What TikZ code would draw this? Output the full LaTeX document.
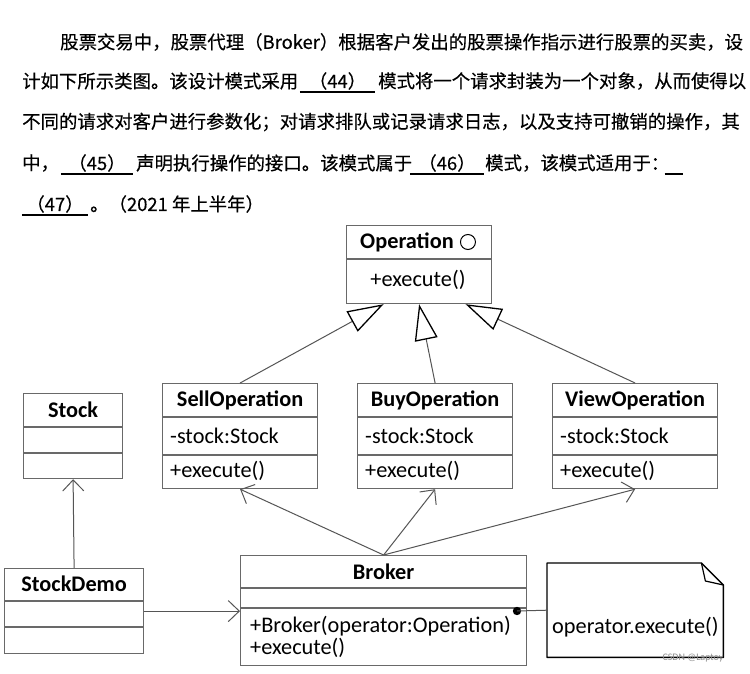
\documentclass[tikz,border=0pt]{standalone}
\usepackage{fontspec}
\setmainfont{Carlito}
\newfontfamily\cjkfont[FakeBold=0.4]{Noto Sans CJK SC}
\usetikzlibrary{arrows.meta,positioning,calc}
\definecolor{boxgray}{RGB}{105,105,105}
\definecolor{linegray}{RGB}{85,85,85}

\begin{document}
\begin{tikzpicture}[x=1pt,y=-1pt,
  cls/.style={draw=boxgray,line width=1.2pt,anchor=north west,inner sep=0pt},
  part/.style={draw=boxgray,line width=1.2pt},
  title/.style={font=\bfseries\fontsize{22.3}{24}\selectfont,inner sep=0pt},
  member/.style={font=\fontsize{22.3}{24}\selectfont,anchor=west,inner sep=0pt},
  para/.style={font=\cjkfont\fontsize{18.4}{22}\selectfont,anchor=west,inner sep=0pt},
  blank/.style={para,anchor=center,inner xsep=0pt,inner ysep=2pt},
  uline/.style={black,line width=1.3pt},
  gen/.style={draw=linegray,line width=1pt,-{Triangle[open,length=36pt,width=23pt,line width=1.3pt,color=black]}},
  dep/.style={draw=linegray,line width=1pt,-{Straight Barb[length=11pt,width=21pt,color=linegray]}}]
\useasboundingbox[fill=white] (0,0) rectangle (750,674);

% question text
\node[para] (l1) at (60,42) {股票交易中，股票代理（Broker）根据客户发出的股票操作指示进行股票的买卖，设};
\node[para] (l2a) at (22,81) {计如下所示类图。该设计模式采用};
\node[blank,minimum width=75pt] (b44) at (337.5,81) {（44）};
\node[para] (l2b) at (378,81) {模式将一个请求封装为一个对象，从而使得以};
\node[para] (l3) at (22,122) {不同的请求对客户进行参数化；对请求排队或记录请求日志，以及支持可撤销的操作，其};
\node[para] (l4a) at (22,163) {中，};
\node[blank,minimum width=72pt] (b45) at (97,163) {（45）};
\node[para] (l4b) at (136,163) {声明执行操作的接口。该模式属于};
\node[blank,minimum width=74pt] (b46) at (447,163) {（46）};
\node[para] (l4c) at (485,163) {模式，该模式适用于：};
\node[blank,minimum width=8pt] (b47a) at (674,163) {\phantom{（}};
\node[blank,minimum width=66pt] (b47) at (55,204) {（47）};
\node[para] (l5) at (90,204) {。（2021 年上半年）};
\foreach \b in {b44,b45,b46,b47a,b47}
  \draw[uline] (\b.south west) -- (\b.south east);

% interface
\node[cls,minimum width=145pt,minimum height=78pt] (oper) at (346,225) {};
\draw[part] ([yshift=-34pt]oper.north west) -- ([yshift=-34pt]oper.north east);
\node[title] (opname) at (407,242) {Operation};
\node[circle,draw,line width=1pt,minimum size=15pt,inner sep=0pt,right=6pt of opname] (opcirc) {};
\node[member,anchor=center] (opexec) at (418,280) {+execute()};

% concrete operations
\foreach \nm/\x/\w/\ttl in {sell/162/155/SellOperation,buy/357/155/BuyOperation,view/552/165/ViewOperation}{
  \node[cls,minimum width=\w pt,minimum height=105pt] (\nm) at (\x,383) {};
  \draw[part] ([yshift=-34pt]\nm.north west) -- ([yshift=-34pt]\nm.north east);
  \draw[part] ([yshift=-72pt]\nm.north west) -- ([yshift=-72pt]\nm.north east);
  \node[title] (\nm-t) at ([yshift=-17pt]\nm.north) {\ttl};
  \node[member] (\nm-a) at ([xshift=8pt,yshift=-53pt]\nm.north west) {-stock:Stock};
  \node[member] (\nm-m) at ([xshift=8pt,yshift=-88pt]\nm.north west) {+execute()};
}

% stock, client, invoker
\node[cls,minimum width=99pt,minimum height=85pt] (stock) at (23,393) {};
\draw[part] ([yshift=-34pt]stock.north west) -- ([yshift=-34pt]stock.north east);
\draw[part] ([yshift=-60pt]stock.north west) -- ([yshift=-60pt]stock.north east);
\node[title] (stock-t) at ([yshift=-17pt]stock.north) {Stock};

\node[cls,minimum width=139pt,minimum height=85pt] (sdemo) at (4,568) {};
\draw[part] ([yshift=-33pt]sdemo.north west) -- ([yshift=-33pt]sdemo.north east);
\draw[part] ([yshift=-59pt]sdemo.north west) -- ([yshift=-59pt]sdemo.north east);
\node[title] (sdemo-t) at ([yshift=-16pt]sdemo.north) {StockDemo};

\node[cls,minimum width=286pt,minimum height=110pt] (broker) at (240,555) {};
\draw[part] ([yshift=-33pt]broker.north west) -- ([yshift=-33pt]broker.north east);
\draw[part] ([yshift=-53pt]broker.north west) -- ([yshift=-53pt]broker.north east);
\node[title] (broker-t) at ([yshift=-17pt]broker.north) {Broker};
\node[member] (broker-c) at (250,626) {+Broker(operator:Operation)};
\node[member] (broker-m) at (250,648) {+execute()};

% note
\node[minimum width=176pt,minimum height=94pt,anchor=north west,inner sep=0pt] (note) at (547,563) {};
\draw[line width=1.4pt,line join=round] (note.north west) -- ([xshift=-22pt]note.north east)
  -- ([yshift=-22pt]note.north east) -- (note.south east) -- (note.south west) -- cycle;
\draw[line width=1.2pt,line join=round] ([xshift=-22pt]note.north east) -- ([xshift=-18pt,yshift=-18pt]note.north east)
  -- ([yshift=-22pt]note.north east);
\node[member] (note-t) at (552,627) {operator.execute()};
\node[font=\fontsize{10}{10}\selectfont,text=black!45,inner sep=0pt] (wm) at (693,658) {CSDN @Laptoy};

% relations
\draw[gen] (sell.north) -- ([xshift=-35.5pt]oper.south);
\draw[gen] (buy.north) -- (oper.south);
\draw[gen] (view.north) -- ([xshift=46.5pt]oper.south);
\draw[dep] (broker.north) -- (sell.south);
\draw[dep] (broker.north) -- (buy.south);
\draw[dep] (broker.north) -- (view.south);
\draw[dep] (sdemo.north) -- (stock.south);
\draw[dep] (sdemo.east) -- (sdemo.east -| broker.west);
\coordinate (dot) at (517,611);
\fill (dot) circle (4.2pt);
\draw[linegray,line width=1pt] (dot) -- (note.west);
\end{tikzpicture}
\end{document}
